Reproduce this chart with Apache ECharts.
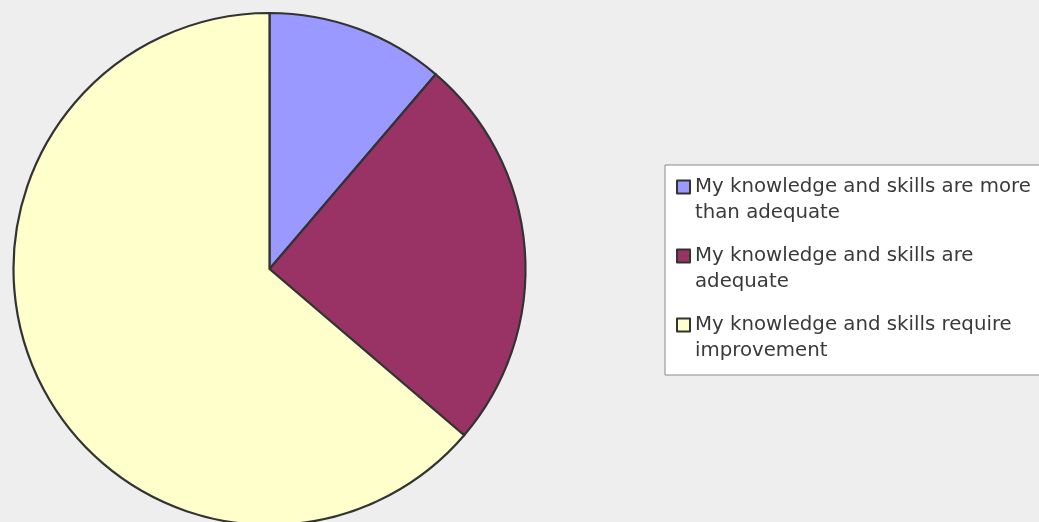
<!DOCTYPE html>
<html>
<head>
<meta charset="utf-8">
<script src="https://cdn.jsdelivr.net/npm/echarts@6/dist/echarts.min.js"></script>
<style>
  html, body { margin: 0; padding: 0; background: #eeeeee; }
  #chart { width: 1039px; height: 522px; }
</style>
</head>
<body>
<div id="chart"></div>
<script>
// Survey responses: self-assessed knowledge and skills
const categories = [
  'My knowledge and skills are more than adequate',
  'My knowledge and skills are adequate',
  'My knowledge and skills require improvement'
];
const counts = [9, 20, 51];
const colors = ['#9999ff', '#993366', '#ffffcc'];

const chart = echarts.init(document.getElementById('chart'), null, { renderer: 'canvas' });

chart.setOption({
  animation: false,
  backgroundColor: '#eeeeee',
  color: colors,
  legend: {
    orient: 'vertical',
    left: 665,
    top: 165,
    padding: [8, 14, 10, 11],
    backgroundColor: '#ffffff',
    borderColor: '#8a8a8a',
    borderWidth: 1,
    borderRadius: 0,
    itemWidth: 13,
    itemHeight: 52,
    itemGap: 15,
    selectedMode: false,
    // square marker placed beside the first text line
    icon: 'path://M0,6.5h13v13h-13zM0,0M13,52',
    itemStyle: { borderColor: '#333333', borderWidth: 2 },
    textStyle: {
      fontFamily: '"DejaVu Sans", Verdana, sans-serif',
      fontSize: 19.75,
      lineHeight: 26,
      color: '#3a3a3a',
      width: 352,
      overflow: 'break'
    },
    data: categories
  },
  series: [{
    type: 'pie',
    center: [269.5, 269],
    radius: 256,
    startAngle: 90,
    clockwise: true,
    label: { show: false },
    labelLine: { show: false },
    emphasis: { disabled: true },
    itemStyle: { borderColor: '#333333', borderWidth: 2.2 },
    data: categories.map((name, i) => ({ name, value: counts[i] }))
  }]
});
</script>
</body>
</html>
